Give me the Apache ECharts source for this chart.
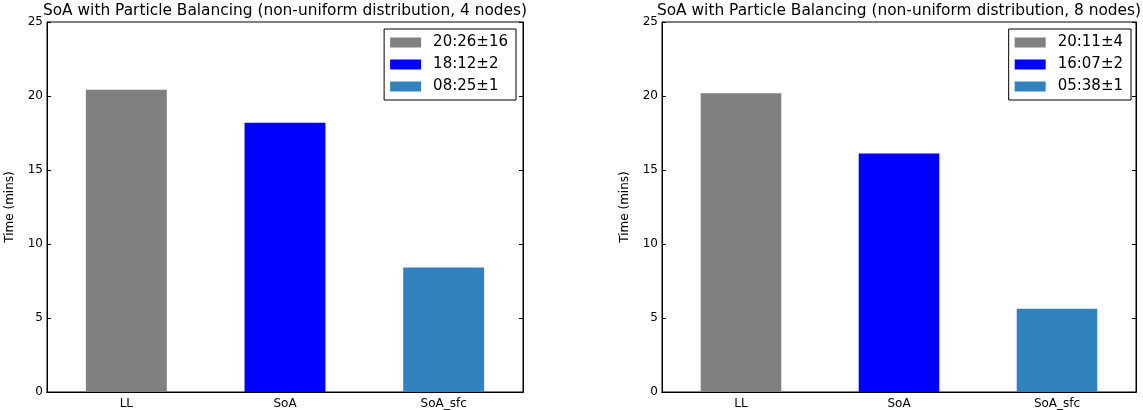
<!DOCTYPE html>
<html>
<head>
<meta charset="utf-8">
<script src="https://cdn.jsdelivr.net/npm/echarts@6/dist/echarts.min.js"></script>
<style>
  html, body { margin: 0; padding: 0; background: #fff; }
  #main { width: 1143px; height: 410px; }
</style>
</head>
<body>
<div id="main"></div>
<script>
const categories = ["LL", "SoA", "SoA_sfc"];
const yTicks = [0, 5, 10, 15, 20, 25];
const barColors = ["#808080", "#0000ff", "#3182bd"];

// 4 nodes
const leftTitle = "SoA with Particle Balancing (non-uniform distribution, 4 nodes)";
const leftValues = [20.43, 18.2, 8.42];
const leftLabels = ["20:26±16", "18:12±2", "08:25±1"];

// 8 nodes
const rightTitle = "SoA with Particle Balancing (non-uniform distribution, 8 nodes)";
const rightValues = [20.18, 16.12, 5.63];
const rightLabels = ["20:11±4", "16:07±2", "05:38±1"];

(() => {
  let myChart = echarts.init(document.querySelector("#main"));
  const font = "DejaVu Sans";

  const grids = [
    { left: 47, right: 620, top: 22, bottom: 18 },
    { left: 662, right: 7, top: 22, bottom: 18 },
  ];

  let xAxis = [];
  let yAxis = [];
  let series = [];
  let legend = [];
  let titles = [];

  [[leftTitle, leftValues, leftLabels, 627], [rightTitle, rightValues, rightLabels, 12]].forEach(
    ([title, values, labels, legendRight], g) => {
      xAxis.push({
        type: "category",
        gridIndex: g,
        data: categories,
        axisLine: { lineStyle: { color: "#000", width: 1 } },
        axisTick: { alignWithLabel: true, inside: true, length: 4, lineStyle: { color: "#000" } },
        axisLabel: { color: "#000", fontFamily: font, fontSize: 12, margin: 6 },
        z: 5,
      });
      xAxis.push({
        type: "category",
        gridIndex: g,
        position: "top",
        data: categories,
        axisLine: { lineStyle: { color: "#000", width: 1 } },
        axisTick: { alignWithLabel: true, inside: true, length: 4, lineStyle: { color: "#000" } },
        axisLabel: { show: false },
      });
      yAxis.push({
        type: "value",
        gridIndex: g,
        min: yTicks[0],
        max: yTicks[yTicks.length - 1],
        interval: yTicks[1] - yTicks[0],
        name: "Time (mins)",
        nameLocation: "middle",
        nameGap: 31,
        nameTextStyle: { color: "#000", fontFamily: font, fontSize: 12 },
        axisLine: { show: true, lineStyle: { color: "#000", width: 1 } },
        axisTick: { show: true, inside: true, length: 4, lineStyle: { color: "#000" } },
        axisLabel: { color: "#000", fontFamily: font, fontSize: 12, margin: 4 },
        splitLine: { show: false },
      });
      yAxis.push({
        type: "value",
        gridIndex: g,
        position: "right",
        min: yTicks[0],
        max: yTicks[yTicks.length - 1],
        interval: yTicks[1] - yTicks[0],
        axisLine: { show: true, lineStyle: { color: "#000", width: 1 } },
        axisTick: { show: true, inside: true, length: 4, lineStyle: { color: "#000" } },
        axisLabel: { show: false },
        splitLine: { show: false },
      });

      labels.forEach((name, i) => {
        series.push({
          name: name,
          type: "bar",
          xAxisIndex: g * 2,
          yAxisIndex: g * 2,
          barWidth: "51%",
          barGap: "-100%",
          itemStyle: { color: barColors[i] },
          data: values.map((v, j) => (j === i ? v : "-")),
        });
      });

      legend.push({
        orient: "vertical",
        right: legendRight,
        top: 29,
        data: labels,
        itemWidth: 31,
        itemHeight: 10,
        itemGap: 7,
        icon: "rect",
        borderColor: "#000",
        borderWidth: 1,
        borderRadius: 0,
        padding: [6, 8, 6, 6],
        textStyle: { color: "#000", fontFamily: font, fontSize: 15, padding: [0, 0, 0, 7] },
        selectedMode: false,
      });

      const gr = grids[g];
      const cx = gr.left + (1143 - gr.left - gr.right) / 2;
      titles.push({
        type: "text",
        x: cx,
        y: 3,
        style: {
          text: title,
          fill: "#000",
          font: "15.4px " + font,
          textAlign: "center",
          textVerticalAlign: "top",
        },
      });
    }
  );

  let option = {
    animation: false,
    grid: grids.map((gr) => ({ ...gr, show: true, borderColor: "#000", borderWidth: 1 })),
    xAxis: xAxis,
    yAxis: yAxis,
    legend: legend,
    series: series,
    graphic: titles,
  };
  myChart.setOption(option);
  window.addEventListener("resize", () => {
    myChart.resize();
  });
})();
</script>
</body>
</html>
